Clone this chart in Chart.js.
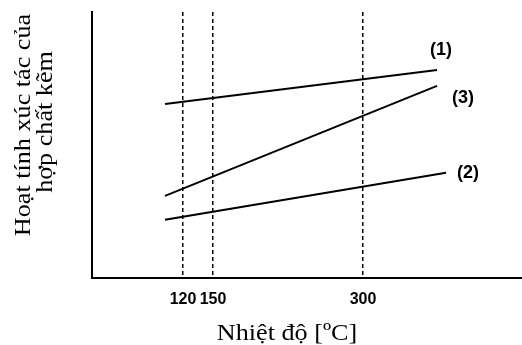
<!DOCTYPE html>
<html>
<head>
<meta charset="utf-8">
<script src="https://cdn.jsdelivr.net/npm/chart.js@4"></script>
<style>
  html, body { margin: 0; padding: 0; background: #fff; }
  #wrap { width: 522px; height: 345px; }
</style>
</head>
<body>
<div id="wrap"><canvas id="chart" width="522" height="345"></canvas></div>
<script>
// Values (temperature in °C, activity on a 0..100 scale)
const tempTicks = [120, 150, 300];
const seriesNames = ['(1)', '(2)', '(3)'];
const series1Temp = [102, 374];
const series1Act = [65.4, 78.2];
const series2Temp = [102, 383];
const series2Act = [21.8, 39.5];
const series3Temp = [102, 374];
const series3Act = [30.8, 72.2];

const yTitle = ['Hoạt tính xúc tác của', 'hợp chất kẽm'];
const xTitle = 'Nhiệt độ [ºC]';

const toPoints = (xs, ys) => xs.map((x, i) => ({ x, y: ys[i] }));

const serif = '"Liberation Serif", "Times New Roman", serif';
const sans = '"Liberation Sans", Arial, sans-serif';

// label placement relative to the end of each line
const labelOffsets = [[4, -20], [22, 0], [26, 12]];

const endLabels = {
  id: 'endLabels',
  afterDatasetsDraw(chart) {
    const { ctx } = chart;
    ctx.save();
    ctx.font = 'bold 18px ' + sans;
    ctx.fillStyle = '#000';
    ctx.textAlign = 'center';
    ctx.textBaseline = 'middle';
    chart.data.datasets.forEach((ds, i) => {
      const meta = chart.getDatasetMeta(i);
      const last = meta.data[meta.data.length - 1];
      const [dx, dy] = labelOffsets[i];
      ctx.fillText(ds.label, last.x + dx, last.y + dy);
    });
    ctx.restore();
  }
};

// axis titles: the original puts them off-centre, so draw them by hand
const axisTitles = {
  id: 'axisTitles',
  afterDraw(chart) {
    const { ctx, chartArea } = chart;
    ctx.save();
    ctx.fillStyle = '#000';
    ctx.textAlign = 'center';
    ctx.textBaseline = 'alphabetic';

    // scanned lettering is a little wider than the font
    ctx.font = '24px ' + serif;
    ctx.save();
    ctx.translate(chartArea.left + 195, chartArea.bottom + 62);
    ctx.scale(1.09, 1);
    ctx.fillText(xTitle, 0, 0);
    ctx.restore();

    yTitle.forEach((line, i) => {
      ctx.save();
      ctx.translate(30 + i * 22, chartArea.top + 113 - i * 3);
      ctx.rotate(-Math.PI / 2);
      ctx.scale(1.09, 1);
      ctx.fillText(line, 0, 0);
      ctx.restore();
    });
    ctx.restore();
  }
};

const lineStyle = {
  borderColor: '#000',
  borderWidth: 2,
  pointRadius: 0,
  fill: false,
  tension: 0
};

const data = {
  datasets: [
    { label: seriesNames[0], data: toPoints(series1Temp, series1Act), ...lineStyle },
    { label: seriesNames[1], data: toPoints(series2Temp, series2Act), ...lineStyle },
    { label: seriesNames[2], data: toPoints(series3Temp, series3Act), ...lineStyle }
  ]
};

const options = {
  responsive: false,
  animation: false,
  layout: { padding: { left: 92, right: 0, top: 12, bottom: 24 } },
  plugins: {
    legend: { display: false },
    tooltip: { enabled: false }
  },
  scales: {
    x: {
      type: 'linear',
      min: 29,
      max: 459,
      afterBuildTicks: (axis) => { axis.ticks = tempTicks.map(v => ({ value: v })); },
      ticks: {
        color: '#000',
        padding: 12,
        font: { family: sans, size: 16, weight: 'bold' }
      },
      grid: {
        color: '#000',
        lineWidth: 1.5,
        drawTicks: false
      },
      border: { display: true, color: '#000', width: 2, dash: [4, 3] }
    },
    y: {
      min: 0,
      max: 100,
      ticks: { display: false },
      grid: { display: false, drawTicks: false },
      border: { display: true, color: '#000', width: 2 }
    }
  }
};

new Chart(document.getElementById('chart'), {
  type: 'line',
  data,
  options,
  plugins: [endLabels, axisTitles]
});
</script>
</body>
</html>
